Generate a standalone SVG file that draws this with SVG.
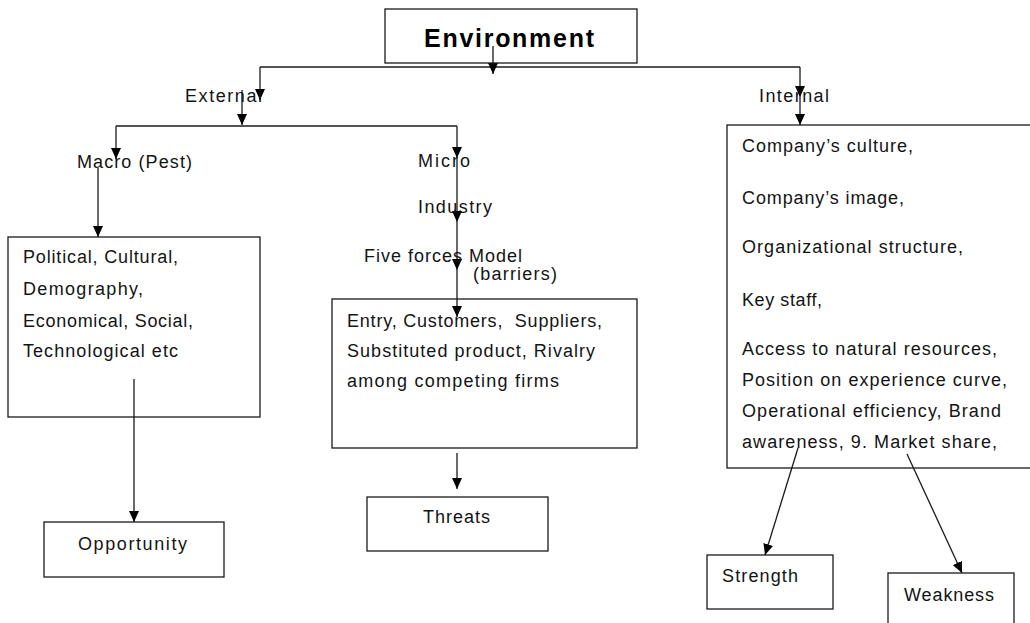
<svg xmlns="http://www.w3.org/2000/svg" width="1030" height="623" viewBox="0 0 1030 623">
<style>
.box{fill:#fff;stroke:#1a1a1a;stroke-width:1.3}
.ln{fill:none;stroke:#1a1a1a;stroke-width:1.3}
.arr{marker-end:url(#ah)}
text{font-family:"Liberation Sans",Arial,sans-serif;font-size:18px;fill:#141414}
.title{font-weight:bold;font-size:25px;fill:#000}
</style>
<defs>
<marker id="ah" markerUnits="userSpaceOnUse" markerWidth="11" markerHeight="10" refX="11" refY="5" orient="auto" viewBox="0 0 11 10">
<path d="M0,0 L11,5 L0,10 z" fill="#000"/>
</marker>
</defs>
<rect width="1030" height="623" fill="#fff"/>
<g id="connectors">
<path class="ln" d="M260,67 H800"/>
<path class="ln" d="M116,126 H457"/>
<path class="ln arr" d="M493,46 V74"/>
<path class="ln arr" d="M260,67 V100"/>
<path class="ln arr" d="M242,90 V125"/>
<path class="ln arr" d="M116,126 V159"/>
<path class="ln arr" d="M98,168 V237"/>
<path class="ln arr" d="M457,126 V158"/>
<path class="ln arr" d="M457,158 V222"/>
<path class="ln arr" d="M457,222 V270"/>
<path class="ln arr" d="M457,270 V317"/>
<path class="ln arr" d="M800,67 V97"/>
<path class="ln arr" d="M800,97 V125"/>
<path class="ln arr" d="M134,379 V522"/>
<path class="ln arr" d="M457,453 V489"/>
<path class="ln arr" d="M798,448 L765,555"/>
<path class="ln arr" d="M907,454 L962,573"/>
</g>
<g id="environment">
<rect class="box" x="385" y="9" width="252" height="54" fill-opacity="0"/>
<text class="title" x="424" y="47" textLength="170" lengthAdjust="spacing">Environment</text>
</g>
<g id="labels">
<text x="185" y="102" textLength="77" lengthAdjust="spacing">External</text>
<text x="759" y="102" textLength="70" lengthAdjust="spacing">Internal</text>
<text x="77" y="168" textLength="115" lengthAdjust="spacing">Macro (Pest)</text>
<text x="418" y="167" textLength="52" lengthAdjust="spacing">Micro</text>
<text x="418" y="213" textLength="74" lengthAdjust="spacing">Industry</text>
<text x="364" y="262" textLength="158" lengthAdjust="spacing">Five forces Model</text>
<text x="473" y="280" textLength="84" lengthAdjust="spacing">(barriers)</text>
</g>
<g id="macro">
<rect class="box" x="8" y="237" width="252" height="180" fill-opacity="0"/>
<text x="23" y="263" textLength="155" lengthAdjust="spacing">Political, Cultural,</text>
<text x="23" y="295" textLength="120" lengthAdjust="spacing">Demography,</text>
<text x="23" y="327" textLength="170" lengthAdjust="spacing">Economical, Social,</text>
<text x="23" y="357" textLength="155" lengthAdjust="spacing">Technological etc</text>
</g>
<g id="micro">
<rect class="box" x="332" y="299" width="305" height="149" fill-opacity="0"/>
<text x="347" y="327" textLength="255" lengthAdjust="spacing">Entry, Customers,&#160; Suppliers,</text>
<text x="347" y="357" textLength="248" lengthAdjust="spacing">Substituted product, Rivalry</text>
<text x="347" y="387" textLength="212" lengthAdjust="spacing">among competing firms</text>
</g>
<g id="internal">
<rect class="box" x="727" y="125" width="306" height="343" fill-opacity="0"/>
<text x="742" y="152" textLength="171" lengthAdjust="spacing">Company’s culture,</text>
<text x="742" y="204" textLength="162" lengthAdjust="spacing">Company’s image,</text>
<text x="742" y="253" textLength="221" lengthAdjust="spacing">Organizational structure,</text>
<text x="742" y="306" textLength="80" lengthAdjust="spacing">Key staff,</text>
<text x="742" y="355" textLength="255" lengthAdjust="spacing">Access to natural resources,</text>
<text x="742" y="386" textLength="265" lengthAdjust="spacing">Position on experience curve,</text>
<text x="742" y="417" textLength="259" lengthAdjust="spacing">Operational efficiency, Brand</text>
<text x="742" y="448" textLength="255" lengthAdjust="spacing">awareness, 9. Market share,</text>
</g>
<g id="opportunity">
<rect class="box" x="44" y="522" width="180" height="55"/>
<text x="78" y="550" textLength="109" lengthAdjust="spacing">Opportunity</text>
</g>
<g id="threats">
<rect class="box" x="367" y="497" width="181" height="54"/>
<text x="423" y="523" textLength="67" lengthAdjust="spacing">Threats</text>
</g>
<g id="strength">
<rect class="box" x="707" y="555" width="126" height="54"/>
<text x="722" y="582" textLength="76" lengthAdjust="spacing">Strength</text>
</g>
<g id="weakness">
<rect class="box" x="888" y="573" width="126" height="52"/>
<text x="904" y="601" textLength="90" lengthAdjust="spacing">Weakness</text>
</g>
</svg>
